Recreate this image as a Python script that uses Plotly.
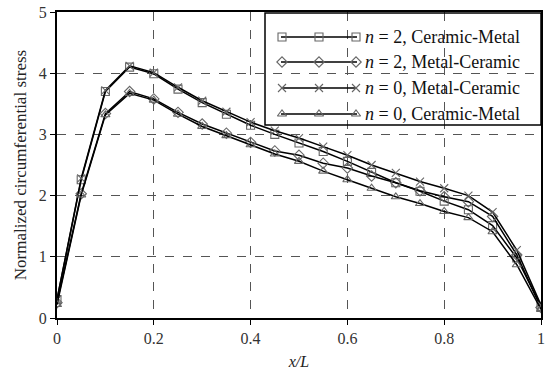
import plotly.graph_objects as go

x_vals = [0, 0.05, 0.1, 0.15, 0.2, 0.25, 0.3, 0.35, 0.4, 0.45, 0.5,
          0.55, 0.6, 0.65, 0.7, 0.75, 0.8, 0.85, 0.9, 0.95, 1.0]

n2_cm = [0.30, 2.26, 3.70, 4.10, 3.99, 3.74, 3.52, 3.33, 3.15, 3.00, 2.86,
         2.72, 2.56, 2.38, 2.21, 2.07, 1.91, 1.77, 1.51, 0.98, 0.19]
n2_mc = [0.25, 2.03, 3.34, 3.70, 3.58, 3.36, 3.17, 3.02, 2.87, 2.73, 2.66,
         2.53, 2.45, 2.32, 2.21, 2.08, 1.98, 1.90, 1.66, 1.03, 0.17]
n0_mc = [0.30, 2.28, 3.72, 4.12, 4.01, 3.77, 3.55, 3.37, 3.20, 3.06, 2.94,
         2.80, 2.66, 2.50, 2.37, 2.23, 2.12, 2.00, 1.73, 1.11, 0.21]
n0_cm = [0.22, 2.01, 3.32, 3.67, 3.56, 3.33, 3.13, 2.98, 2.83, 2.68, 2.56,
         2.40, 2.26, 2.12, 1.98, 1.87, 1.74, 1.64, 1.41, 0.87, 0.14]

series_names = ["<i>n</i> = 2, Ceramic-Metal", "<i>n</i> = 2, Metal-Ceramic",
                "<i>n</i> = 0, Metal-Ceramic", "<i>n</i> = 0, Ceramic-Metal"]
series_values = [n2_cm, n2_mc, n0_mc, n0_cm]
series_symbols = ["square-open", "diamond-open", "x-thin-open", "triangle-up-open"]

x_ticks = [0, 0.2, 0.4, 0.6, 0.8, 1]
x_tick_text = ["0", "0.2", "0.4", "0.6", "0.8", "1"]
y_ticks = [0, 1, 2, 3, 4, 5]

# layout geometry (pixels)
W, H = 556, 374
ML, MR, MT, MB = 57, 15, 12, 56
PX0, PX1 = ML, W - MR
PY0, PY1 = MT, H - MB

MARKER_COLOR = "#666666"
font_family = "Times New Roman, Liberation Serif, DejaVu Serif, serif"

fig = go.Figure()
for name, ys, sym in zip(series_names, series_values, series_symbols):
    fig.add_trace(go.Scatter(
        x=x_vals, y=ys, name=name, mode="lines+markers", showlegend=False,
        line=dict(color="black", width=1.5),
        marker=dict(symbol=sym, size=8, color=MARKER_COLOR,
                    line=dict(color=MARKER_COLOR, width=1.1)),
    ))

# custom legend drawn on an overlay axis measured in pixels
leg_left, leg_top, leg_bottom = 265, PY0 + 1, 125
leg_rows = [37, 62, 88, 114]
samp_x0, samp_x1 = 281, 357
samp_marks = [282, 319, 356]
text_x = 363

annotations = []
for name, sym, ry in zip(series_names, series_symbols, leg_rows):
    fig.add_trace(go.Scatter(
        x=[samp_x0, samp_x1], y=[ry, ry], mode="lines", showlegend=False,
        xaxis="x2", yaxis="y2", hoverinfo="skip",
        line=dict(color="black", width=1.5),
    ))
    fig.add_trace(go.Scatter(
        x=samp_marks, y=[ry] * len(samp_marks), mode="markers",
        showlegend=False, xaxis="x2", yaxis="y2", hoverinfo="skip",
        marker=dict(symbol=sym, size=8, color=MARKER_COLOR,
                    line=dict(color=MARKER_COLOR, width=1.1)),
    ))
    annotations.append(dict(
        x=text_x, y=ry, xref="x2", yref="y2", text=name, showarrow=False,
        xanchor="left", yanchor="middle",
        font=dict(family=font_family, size=18, color="#111111"),
    ))

shapes = [dict(type="rect", xref="x2", yref="y2",
               x0=leg_left, x1=PX1, y0=leg_top, y1=leg_bottom,
               line=dict(color="black", width=1.5), fillcolor="rgba(0,0,0,0)")]

fig.update_layout(
    width=W, height=H,
    margin=dict(l=ML, r=MR, t=MT, b=MB, autoexpand=False),
    paper_bgcolor="white", plot_bgcolor="white",
    font=dict(family=font_family, size=16, color="#222222"),
    showlegend=False,
    annotations=annotations,
    shapes=shapes,
    xaxis=dict(
        range=[0, 1], tickvals=x_ticks, ticktext=x_tick_text,
        showgrid=True, gridcolor="#555555", griddash="dash", gridwidth=1,
        showline=True, linecolor="black", linewidth=2, mirror=True,
        ticks="outside", ticklen=5, tickcolor="black",
        tickfont=dict(family=font_family, size=16, color="#333333"),
        zeroline=False, automargin=False,
        title=dict(text="<i>x/L</i>", standoff=10,
                   font=dict(family=font_family, size=16)),
    ),
    yaxis=dict(
        range=[0, 5], tickvals=y_ticks,
        showgrid=True, gridcolor="#555555", griddash="dash", gridwidth=1,
        showline=True, linecolor="black", linewidth=2, mirror=True,
        ticks="outside", ticklen=5, tickcolor="black",
        tickfont=dict(family=font_family, size=16, color="#333333"),
        zeroline=False, automargin=False,
        title=dict(text="Normalized circumferential stress", standoff=8,
                   font=dict(family=font_family, size=17)),
    ),
    xaxis2=dict(overlaying="x", anchor="y2", range=[PX0, PX1], visible=False,
                fixedrange=True),
    yaxis2=dict(overlaying="y", anchor="x2", range=[PY1, PY0], visible=False,
                fixedrange=True),
)

fig.write_html("out.html")
